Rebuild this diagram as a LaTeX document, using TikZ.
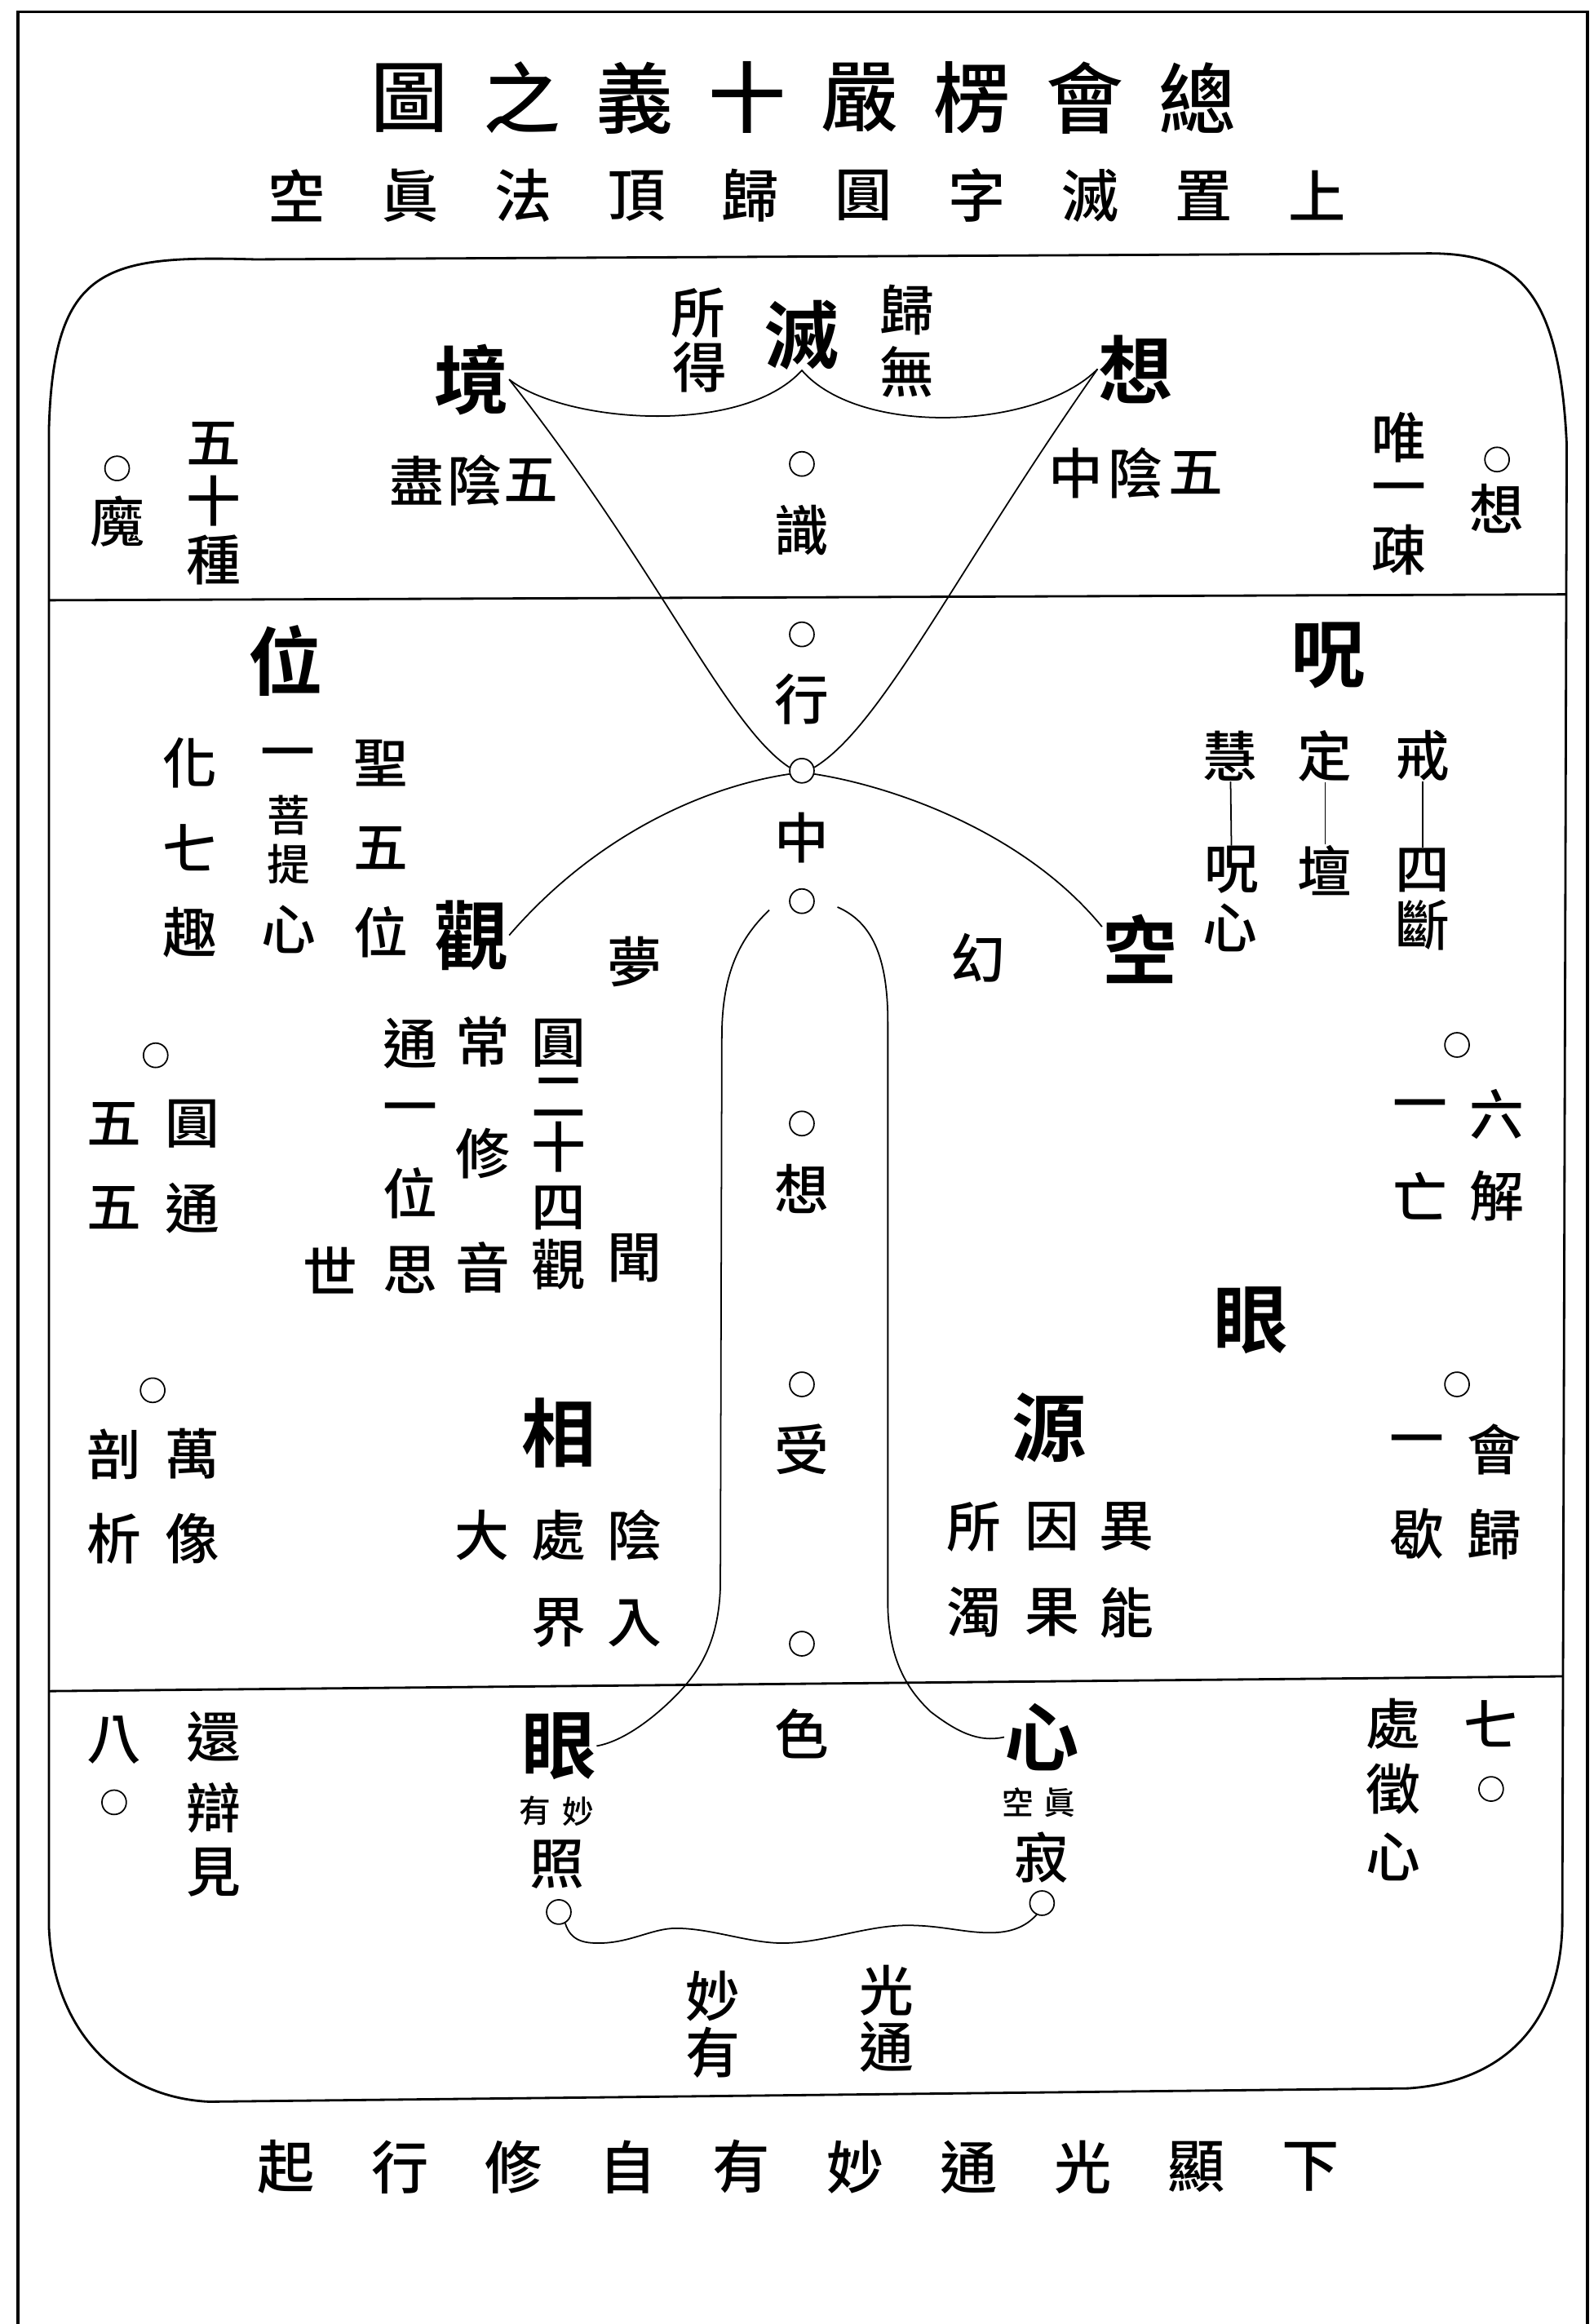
\documentclass[tikz,border=0pt]{standalone}
\usepackage{fontspec}
\newfontfamily\hanzi{Noto Sans CJK TC}[UprightFont={* Medium}, BoldFont={* Bold}]

\tikzset{
  biaoti/.style={inner sep=0pt, font=\hanzi\fontsize{27}{27}\selectfont},
  fubiao/.style={inner sep=0pt, font=\hanzi\fontsize{20}{20}\selectfont},
  dazi/.style={inner sep=0pt, font=\hanzi\bfseries\fontsize{26}{26}\selectfont},
  zi/.style={inner sep=0pt, font=\hanzi\fontsize{19}{19}\selectfont},
  tizi/.style={inner sep=0pt, font=\hanzi\fontsize{15}{15}\selectfont},
  xiaozi/.style={inner sep=0pt, font=\hanzi\fontsize{11}{11}\selectfont},
  quan/.style={circle, draw, line width=0.5pt, inner sep=0pt, minimum size=8.5pt},
  xian/.style={line width=0.5pt},
  kuang/.style={line width=0.8pt}
}

\begin{document}
\begin{tikzpicture}[x=0.1817mm, y=-0.1817mm]
    \useasboundingbox (0,0) rectangle (1075,1568);

    % Outer frame (open at the bottom)
    \draw[line width=1.1pt] (12,1568) -- (12,8) -- (1071,8) -- (1071,1568);

    % Title lines
    \foreach \c [count=\i] in {圖,之,義,十,嚴,楞,會,總}
        \node[biaoti] (ti\i) at (200+76*\i, 66) {\c};
    \foreach \c [count=\i] in {空,眞,法,頂,歸,圓,字,滅,置,上}
        \node[fubiao] (fu\i) at (123.5+76.5*\i, 132) {\c};
    \foreach \c [count=\i] in {起,行,修,自,有,妙,通,光,顯,下}
        \node[fubiao] (di\i) at (116.2+76.8*\i, 1462) {\c};

    % Main box
    \draw[kuang] (172,175) -- (960,171)
        .. controls (1020,170) and (1052,190) .. (1057,300)
        -- (1054,1300)
        .. controls (1052,1370) and (1010,1405) .. (950,1409)
        -- (141,1418)
        .. controls (80,1415) and (36,1370) .. (33,1300)
        -- (33,290)
        .. controls (36,180) and (70,172) .. cycle;

    % Dividers
    \draw[kuang] (33,405) -- (1057,401);
    \draw[kuang] (33,1141) -- (1054,1131);

    % Centre column
    \node[quan] (oshi) at (541,313) {};
    \node[zi] (shi) at (541,358) {識};
    \node[quan] (oxing) at (541,428) {};
    \node[zi] (xing) at (541,472) {行};
    \node[quan] (ozhong) at (541,520) {};
    \node[zi] (zhong) at (541,565) {中};
    \node[quan] (ogen) at (541,608) {};
    \node[quan] (oxiang) at (541,758) {};
    \node[zi] (xiangz) at (541,802) {想};
    \node[quan] (oshou) at (541,934) {};
    \node[zi] (shou) at (541,978) {受};
    \node[quan] (ose) at (541,1109) {};
    \node[zi] (se) at (541,1170) {色};

    % Upper part
    \node[quan] (omo) at (79,316) {};
    \node[zi] (mo) at (79,352) {魔};
    \foreach \c/\y [count=\i] in {五/299,十/338,種/378}
        \node[zi] (wsz\i) at (144,\y) {\c};
    \node[dazi] (jing) at (318,256) {境};
    \foreach \c/\x [count=\i] in {盡/281,陰/320,五/358}
        \node[zi] (wyj\i) at (\x,324) {\c};
    \node[zi] (suo) at (471,211) {所};
    \node[zi] (de) at (472,248) {得};
    \node[dazi] (mie) at (541,226) {滅};
    \node[zi] (gui) at (612,209) {歸};
    \node[zi] (wu) at (612,251) {無};
    \node[dazi] (xiang) at (766,249) {想};
    \foreach \c/\x [count=\i] in {中/726,陰/766,五/807}
        \node[zi] (wyz\i) at (\x,319) {\c};
    \foreach \c/\y [count=\i] in {唯/295,一/334,疎/371}
        \node[zi] (wys\i) at (944,\y) {\c};
    \node[quan] (oxr) at (1010,310) {};
    \node[zi] (xr) at (1010,343) {想};

    % Middle part, left
    \node[dazi] (wei) at (193,446) {位};
    \foreach \c/\y [count=\i] in {化/515,七/572,趣/629}
        \node[zi] (hqq\i) at (128,\y) {\c};
    \node[zi] (yi) at (194,513) {一};
    \node[tizi] (pu) at (195,550) {菩};
    \node[tizi] (ti) at (195,583) {提};
    \node[zi] (xinp) at (195,627) {心};
    \foreach \c/\y [count=\i] in {聖/515,五/572,位/629}
        \node[zi] (swy\i) at (257,\y) {\c};
    \node[dazi] (guan) at (318,631) {觀};
    \node[zi] (meng) at (428,649) {夢};

    \node[quan] (oyt) at (105,712) {};
    \foreach \c/\x/\y [count=\i] in {圓/130/758,通/130/815,五/77/758,五/77/815}
        \node[zi] (yt\i) at (\x,\y) {\c};
    \foreach \c/\y [count=\i] in {通/704,一/752,位/805,思/857}
        \node[zi] (tyw\i) at (277,\y) {\c};
    \foreach \c/\y [count=\i] in {常/703,修/778,音/855}
        \node[zi] (cxy\i) at (326,\y) {\c};
    \foreach \c/\y [count=\i] in {圓/704,二/740,十/774,四/815,觀/853}
        \node[zi] (yes\i) at (377,\y) {\c};
    \node[zi] (shiw) at (223,857) {世};
    \node[zi] (wen) at (428,849) {聞};

    \node[quan] (owx) at (103,938) {};
    \foreach \c/\x/\y [count=\i] in {萬/130/981,像/130/1038,剖/77/981,析/77/1038}
        \node[zi] (wx\i) at (\x,\y) {\c};
    \node[dazi] (xiangs) at (377,967) {相};
    \foreach \c/\x/\y [count=\i] in {陰/428/1036,入/428/1095,處/377/1036,界/377/1095,大/325/1036}
        \node[zi] (yr\i) at (\x,\y) {\c};

    % Middle part, right
    \node[dazi] (zhou) at (896,442) {呪};
    \node[zi] (hui) at (830,510) {慧};
    \node[zi] (zhouz) at (831,587) {呪};
    \node[zi] (xinz) at (830,626) {心};
    \node[zi] (ding) at (894,510) {定};
    \node[zi] (tan) at (894,587) {壇};
    \node[zi] (jie) at (960,510) {戒};
    \node[zi] (si) at (960,587) {四};
    \node[zi] (duan) at (960,624) {斷};
    \draw[xian] (hui) -- (zhouz);
    \draw[xian] (ding) -- (tan);
    \draw[xian] (jie) -- (si);
    \node[zi] (huan) at (660,646) {幻};
    \node[dazi] (kong) at (769,640) {空};

    \node[quan] (olj) at (983,705) {};
    \foreach \c/\x/\y [count=\i] in {六/1010/752,解/1010/807,一/958/750,亡/958/807}
        \node[zi] (lj\i) at (\x,\y) {\c};
    \node[dazi] (yan) at (844,891) {眼};
    \node[dazi] (yuan) at (708,963) {源};
    \foreach \c/\x/\y [count=\i] in {異/760/1030,能/760/1088,因/710/1030,果/710/1088,所/657/1030,濁/657/1088}
        \node[zi] (yy\i) at (\x,\y) {\c};
    \node[quan] (ohg) at (983,934) {};
    \foreach \c/\x/\y [count=\i] in {會/1008/978,歸/1008/1035,一/956/976,歇/956/1035}
        \node[zi] (hg\i) at (\x,\y) {\c};

    % Lower part
    \node[zi] (ba) at (77,1174) {八};
    \node[quan] (oba) at (77,1216) {};
    \foreach \c/\y [count=\i] in {還/1172,辯/1220,見/1263}
        \node[zi] (hbj\i) at (144,\y) {\c};
    \node[dazi] (yanx) at (377,1178) {眼};
    \node[xiaozi] (you) at (361,1222) {有};
    \node[xiaozi] (miao) at (390,1222) {妙};
    \node[zi] (zhao) at (376,1258) {照};
    \node[quan] (ozhao) at (377,1290) {};
    \node[dazi] (xinx) at (703,1172) {心};
    \node[xiaozi] (kongx) at (687,1216) {空};
    \node[xiaozi] (zhen) at (715,1216) {眞};
    \node[zi] (ji) at (703,1253) {寂};
    \node[quan] (oji) at (703,1284) {};
    \foreach \c/\y [count=\i] in {處/1163,徵/1207,心/1253}
        \node[zi] (czx\i) at (940,\y) {\c};
    \node[zi] (qi) at (1006,1163) {七};
    \node[quan] (oqi) at (1006,1207) {};
    \node[zi] (miaob) at (481,1347) {妙};
    \node[zi] (youb) at (481,1385) {有};
    \node[zi] (guang) at (598,1343) {光};
    \node[zi] (tong) at (598,1381) {通};

    % Connecting curves
    \draw[xian] (jing.east) .. controls (380,285) and (500,295) .. (mie.south)
        .. controls (580,295) and (700,290) .. (xiang.west);
    \draw[xian] (jing.east) .. controls (445,385) and (490,490) .. (ozhong.165);
    \draw[xian] (xiang.west) .. controls (645,385) and (595,490) .. (ozhong.15);
    \draw[xian] (ozhong.195) .. controls (480,530) and (405,560) .. (guan.east);
    \draw[xian] (ozhong.-15) .. controls (600,530) and (690,560) .. (kong.150);

    % Stem down to the two lower nodes
    \coordinate (genl) at (519,614);
    \coordinate (genr) at (565,612);
    \draw[xian] (genl) .. controls (497,635) and (487,660) .. (487,700)
        -- (486,1070) .. controls (485,1110) and (470,1130) .. (455,1145)
        .. controls (440,1160) and (420,1175) .. (yanx.east);
    \draw[xian] (genr) .. controls (588,622) and (599,645) .. (599,690)
        -- (599,1085) .. controls (600,1120) and (612,1140) .. (628,1155)
        .. controls (645,1168) and (660,1176) .. (xinx.west);

    % Wave between the two bottom circles
    \draw[xian] (ozhao.-60) .. controls (385,1310) and (395,1311) .. (404,1311)
        .. controls (425,1311) and (440,1301) .. (456,1301)
        .. controls (480,1301) and (505,1311) .. (528,1311)
        .. controls (555,1311) and (585,1299) .. (612,1299)
        .. controls (635,1299) and (650,1304) .. (668,1304)
        .. controls (682,1304) and (692,1300) .. (oji.-115);

\end{tikzpicture}
\end{document}
